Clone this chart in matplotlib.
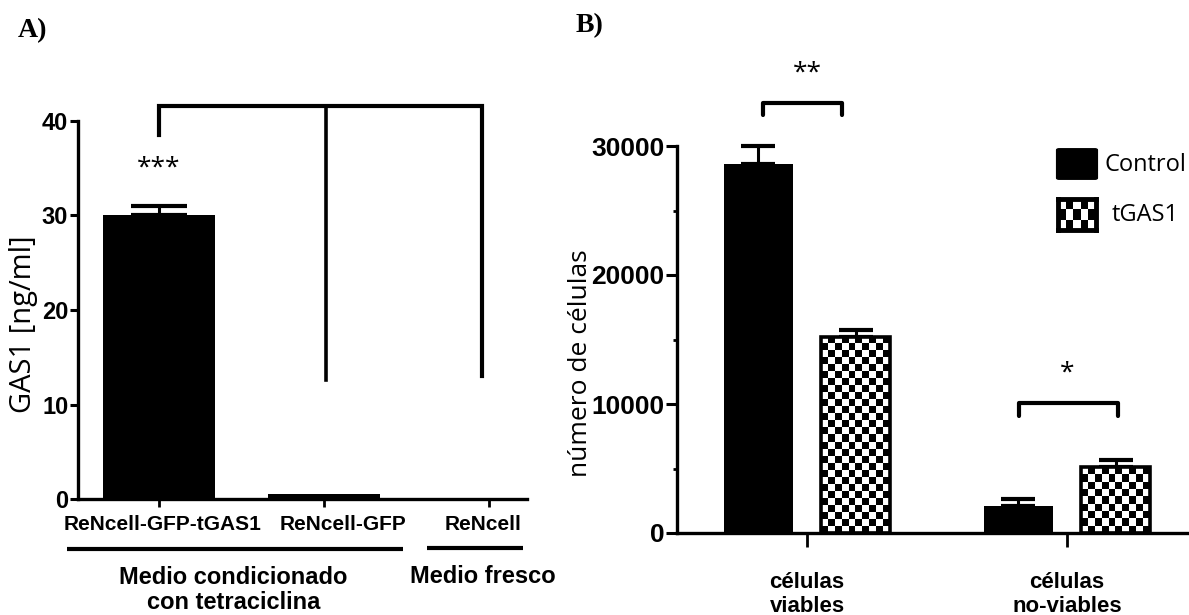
import numpy as np
import matplotlib
matplotlib.use("Agg")
import matplotlib.pyplot as plt
from matplotlib.patches import FancyBboxPatch

# panel A: GAS1 en medio condicionado
groups_a = ["ReNcell-GFP-tGAS1", "ReNcell-GFP", "ReNcell"]
gas1 = [30.0, 0.5, 0.0]
gas1_err = [1.0, 0.0, 0.0]
yticks_a = [0, 10, 20, 30, 40]

# panel B: conteo de celulas
cats_b = ["células\nviables", "células\nno-viables"]
control = [28600, 2100]
control_err = [1400, 550]
tgas1 = [15200, 5100]
tgas1_err = [550, 550]
yticks_b = [0, 10000, 20000, 30000]

narrow = ["Liberation Sans Narrow", "Liberation Sans"]
arial = ["Liberation Sans"]
calib = ["Open Sans", "DejaVu Sans"]

W, H = 1189, 615
fig = plt.figure(figsize=(W / 100, H / 100), dpi=100)


def checker(rows, cols):
    r, c = np.indices((rows, cols))
    return (r + c) % 2


def style_axes(ax):
    for s in ["top", "right"]:
        ax.spines[s].set_visible(False)
    for s in ["left", "bottom"]:
        ax.spines[s].set_linewidth(2.4)


###############################################################################
# A)
axA = fig.add_axes([78 / W, 1 - 499 / H, 449 / W, 378 / H])
style_axes(axA)
xa = np.arange(len(groups_a))
axA.bar(xa, gas1, width=0.68, color="black", zorder=2)
for xi, v, e in zip(xa, gas1, gas1_err):
    if e > 0:
        axA.errorbar(xi, v, yerr=[[0], [e]], fmt="none", ecolor="black",
                     elinewidth=2.2, capsize=20, capthick=3, zorder=1)
axA.set_xlim(-0.491, 2.23)
axA.set_ylim(0, 40)
axA.set_yticks(yticks_a)
axA.set_xticks(xa)
axA.set_xticklabels([""] * len(xa))
axA.tick_params(axis="y", length=6, width=2.2, pad=1, labelsize=17)
axA.tick_params(axis="x", length=6, width=2, pad=2)
for lab in axA.get_yticklabels():
    lab.set_fontfamily(narrow)
    lab.set_fontweight("bold")
axA.set_ylabel("GAS1 [ng/ml]", fontsize=21, family=calib)
axA.yaxis.set_label_coords(-0.09, 0.463)

# bracket over the bars
axA.plot([0, 0, 1.958, 1.958], [38.5, 41.6, 41.6, 13.0], color="black", lw=3,
         clip_on=False, solid_joinstyle="miter")
axA.plot([1.01, 1.01], [41.6, 12.6], color="black", lw=2.6, clip_on=False)
axA.text(0, 35, "***", ha="center", va="center", fontsize=19, family=calib)

tr = axA.get_xaxis_transform()
lab_x = [0.02, 1.115, 1.964]
for xx, g in zip(lab_x, groups_a):
    axA.text(xx, -0.068, g, transform=tr, ha="center", va="center",
             fontsize=15, family=arial, fontweight="bold")
axA.plot([-0.558, 1.479], [-0.132, -0.132], transform=tr, color="black",
         lw=3, clip_on=False, solid_capstyle="butt")
axA.plot([1.624, 2.206], [-0.129, -0.129], transform=tr, color="black",
         lw=3, clip_on=False, solid_capstyle="butt")
axA.text(0.45, -0.241, "Medio condicionado\ncon tetraciclina", transform=tr,
         ha="center", va="center", fontsize=17, family=arial,
         fontweight="bold", linespacing=1.1)
axA.text(1.964, -0.206, "Medio fresco", transform=tr, ha="center",
         va="center", fontsize=17, family=arial, fontweight="bold")

###############################################################################
# B)
axB = fig.add_axes([677 / W, 1 - 533 / H, 512 / W, 387 / H])
style_axes(axB)
xb = np.arange(len(cats_b))
w = 0.265
off = 0.187

axB.bar(xb - off, control, width=w, color="black", zorder=2)
for xi, v, e in zip(xb - off, control, control_err):
    eb = axB.errorbar(xi, v, yerr=[[0], [e]], fmt="none", ecolor="black",
                      elinewidth=2.2, capsize=12.5, capthick=3, zorder=1)
    for art in eb.lines[1] + eb.lines[2]:
        art.set_clip_on(False)

for xi, v, e in zip(xb + off, tgas1, tgas1_err):
    bar = axB.bar(xi, v, width=w, facecolor="none", edgecolor="black",
                  linewidth=2.6, zorder=3)[0]
    nrow = max(2, int(round(v / 540)))
    im = axB.imshow(checker(nrow, 10), cmap="gray_r", vmin=0, vmax=1,
                    extent=[xi - w / 2, xi + w / 2, 0, v], aspect="auto",
                    interpolation="nearest", zorder=2)
    im.set_clip_path(bar)
    eb = axB.errorbar(xi, v, yerr=[[0], [e]], fmt="none", ecolor="black",
                      elinewidth=2.2, capsize=12.5, capthick=3, zorder=1)
    for art in eb.lines[1] + eb.lines[2]:
        art.set_clip_on(False)

axB.set_xlim(-0.5, 1.469)
axB.set_ylim(0, 30000)
axB.set_yticks(yticks_b)
axB.set_yticks([5000, 15000, 25000], minor=True)
axB.set_xticks(xb)
axB.set_xticklabels([""] * len(xb))
axB.tick_params(axis="y", which="major", length=8, width=2.2, pad=1,
                labelsize=19)
axB.tick_params(axis="y", which="minor", length=3, width=2)
axB.tick_params(axis="x", length=10, width=2)
for lab in axB.get_yticklabels():
    lab.set_fontfamily(narrow)
    lab.set_fontweight("bold")
axB.set_ylabel("número de células", fontsize=19, family=calib)
axB.yaxis.set_label_coords(-0.164, 0.44)

trb = axB.get_xaxis_transform()
for xi, c in zip(xb, cats_b):
    axB.text(xi, -0.158, c, transform=trb, ha="center", va="center",
             fontsize=16, family=arial, fontweight="bold", linespacing=1.2)

# significance brackets
axB.plot([-0.169, -0.169, 0.135, 0.135], [32400, 33330, 33330, 32400],
         color="black", lw=3, clip_on=False, solid_capstyle="round",
         solid_joinstyle="round")
axB.text(0, 35660, "**", ha="center", va="center", fontsize=19, family=calib)
axB.plot([0.815, 0.815, 1.196, 1.196], [9070, 10080, 10080, 9070],
         color="black", lw=3, clip_on=False, solid_capstyle="round",
         solid_joinstyle="round")
axB.text(1.0, 12400, "*", ha="center", va="center", fontsize=19, family=calib)

# legend drawn by hand
fig.patches.append(FancyBboxPatch((1059 / W, 1 - 178 / H), 36 / W, 28 / H,
                                  boxstyle="round,pad=0.002", transform=fig.transFigure,
                                  facecolor="black", edgecolor="black"))
sw = fig.add_axes([1058 / W, 1 - 230 / H, 38 / W, 31 / H])
sw.imshow(checker(3, 5), cmap="gray_r", vmin=0, vmax=1, aspect="auto",
          interpolation="nearest")
sw.set_xticks([])
sw.set_yticks([])
for s in sw.spines.values():
    s.set_linewidth(3.5)
fig.text(1104 / W, 1 - 165 / H, "Control", ha="left", va="center",
         fontsize=17, family=calib)
fig.text(1112 / W, 1 - 215 / H, "tGAS1", ha="left", va="center",
         fontsize=17, family=calib)

# panel letters
fig.text(18 / W, 1 - 31 / H, "A)", ha="left", va="center", fontsize=20,
         family=["Liberation Serif"], fontweight="bold")
fig.text(576 / W, 1 - 26 / H, "B)", ha="left", va="center", fontsize=20,
         family=["Liberation Serif"], fontweight="bold")

plt.savefig("out.png", dpi=100)
